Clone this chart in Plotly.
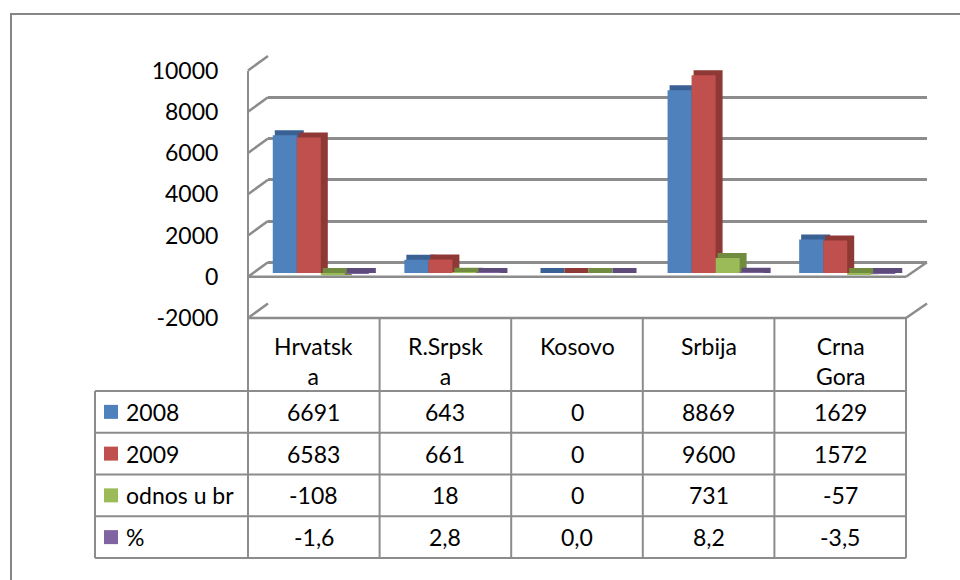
import plotly.graph_objects as go

# ---------------- data ----------------
categories = ["Hrvatska", "R.Srpska", "Kosovo", "Srbija", "Crna Gora"]
header_labels = ["Hrvatsk<br>a", "R.Srpsk<br>a", "Kosovo", "Srbija", "Crna<br>Gora"]
series_names = ["2008", "2009", "odnos u br", "%"]
values_2008 = [6691, 643, 0, 8869, 1629]
values_2009 = [6583, 661, 0, 9600, 1572]
values_diff = [-108, 18, 0, 731, -57]
values_pct = [-1.6, 2.8, 0.0, 8.2, -3.5]
y_ticks = [-2000, 0, 2000, 4000, 6000, 8000, 10000]

series_values = [values_2008, values_2009, values_diff, values_pct]
front_colors = ["#4F81BD", "#C0504D", "#9BBB59", "#8064A2"]
side_colors = ["#3A6194", "#8E3936", "#728C3F", "#5E4A7B"]

# ---------------- layout geometry (pixels) ----------------
W, H = 960, 580
FONT = "Lato"
FS = 23
GRID = "#8C8C8C"


def px(x):
    return x / W


def py(y):
    return 1 - y / H


FRONT_L, FRONT_R = 248, 906
BACK_L, BACK_R = 268, 927
FRONT_TOP, FRONT_BOT = 70.5, 318.0   # 10000 / -2000 on the front edge
BACK_TOP, BACK_BOT = 56.0, 303.5     # 10000 / -2000 on the back wall
BAR_L, BAR_R = 255, 913
BAR_TOP, BAR_BOT = 67.0, 314.2
SIDE_W = 5                           # stroke of the depth faces
DX, DY = 7 - SIDE_W / 2, 5 - SIDE_W / 2
YMIN, YMAX = y_ticks[0], y_ticks[-1]


def y_front(v):
    return FRONT_BOT - (v - YMIN) / (YMAX - YMIN) * (FRONT_BOT - FRONT_TOP)


def y_back(v):
    return BACK_BOT - (v - YMIN) / (YMAX - YMIN) * (BACK_BOT - BACK_TOP)


fig = go.Figure()

# back-wall grid subplot (x, y)
fig.add_trace(go.Scatter(x=[0.5], y=[0], mode="markers", marker=dict(opacity=0),
                         xaxis="x", yaxis="y", showlegend=False, hoverinfo="skip"))
# label axis subplot (x, y4)
fig.add_trace(go.Scatter(x=[0.5], y=[0], mode="markers", marker=dict(opacity=0),
                         xaxis="x", yaxis="y4", showlegend=False, hoverinfo="skip"))

# depth faces (shifted copy, zero values kept visible as flat faces)
for name, vals, col in zip(series_names, series_values, side_colors):
    fig.add_trace(go.Bar(x=categories, y=[v if v != 0 else 1e-6 for v in vals], name=name,
                         marker=dict(color=col, line=dict(width=SIDE_W, color=col)),
                         xaxis="x2", yaxis="y2", showlegend=False, hoverinfo="skip"))
# front faces
for name, vals, col in zip(series_names, series_values, front_colors):
    fig.add_trace(go.Bar(x=categories, y=vals, name=name, marker=dict(color=col, line=dict(width=0)),
                         xaxis="x3", yaxis="y3", showlegend=False, hoverinfo="skip"))

hidden = dict(visible=False, showgrid=False, zeroline=False, fixedrange=True, automargin=False)

fig.update_layout(
    width=W, height=H,
    margin=dict(l=0, r=0, t=0, b=0, pad=0, autoexpand=False),
    paper_bgcolor="white", plot_bgcolor="rgba(0,0,0,0)",
    barmode="group", bargap=0.27, bargroupgap=0,
    showlegend=False, hovermode=False,
    font=dict(family=FONT, size=FS, color="black"),
    xaxis=dict(domain=[px(BACK_L), px(BACK_R)], range=[0, 1], **hidden),
    yaxis=dict(domain=[py(BACK_BOT), py(BACK_TOP)], range=[YMIN, YMAX], tickvals=y_ticks,
               showgrid=True, gridcolor=GRID, gridwidth=2.5, zeroline=False, automargin=False,
               showticklabels=False, showline=False, ticks="", fixedrange=True),
    xaxis2=dict(domain=[px(BAR_L + DX), px(BAR_R + DX)], anchor="y2", **hidden),
    yaxis2=dict(domain=[py(BAR_BOT - DY), py(BAR_TOP - DY)], range=[YMIN, YMAX], anchor="x2", **hidden),
    xaxis3=dict(domain=[px(BAR_L), px(BAR_R)], anchor="y3", **hidden),
    yaxis3=dict(domain=[py(BAR_BOT), py(BAR_TOP)], range=[YMIN, YMAX], anchor="x3", **hidden),
    yaxis4=dict(domain=[py(FRONT_BOT), py(FRONT_TOP)], range=[YMIN, YMAX], anchor="free",
                position=px(FRONT_L), tickvals=y_ticks, ticktext=[str(t) for t in y_ticks],
                showgrid=False, zeroline=False, showline=True, linecolor=GRID, linewidth=2,
                ticks="", ticklabelstandoff=24, automargin=False,
                tickfont=dict(family=FONT, size=FS, color="black"), fixedrange=True),
)

shapes = []
line = dict(color=GRID, width=2.5)
# outer frame
shapes.append(dict(type="rect", xref="paper", yref="paper", x0=px(11), x1=px(990), y0=py(14), y1=py(600),
                   line=dict(color="#868686", width=2), fillcolor="rgba(0,0,0,0)", layer="below"))
# side wall slants
for v in y_ticks:
    shapes.append(dict(type="line", xref="paper", yref="paper", x0=px(FRONT_L), y0=py(y_front(v)),
                       x1=px(BACK_L), y1=py(y_back(v)), line=line))
# floor (0) and bottom (-2000) front edges + right slants
for v in (0, YMIN):
    shapes.append(dict(type="line", xref="paper", yref="paper", x0=px(FRONT_L), y0=py(y_front(v)),
                       x1=px(FRONT_R), y1=py(y_front(v)), line=line))
    shapes.append(dict(type="line", xref="paper", yref="paper", x0=px(FRONT_R), y0=py(y_front(v)),
                       x1=px(BACK_R), y1=py(y_back(v)), line=line))

# ---------------- data table ----------------
TBL_L, TBL_R = 95, FRONT_R
HEAD_TOP, HEAD_BOT = FRONT_BOT, 391
TBL_BOT = 558
ROW_H = (TBL_BOT - HEAD_BOT) / len(series_names)
col_w = (TBL_R - FRONT_L) / len(categories)
tline = dict(color=GRID, width=2)

# horizontal lines
for r in range(len(series_names) + 1):
    yy = HEAD_BOT + r * ROW_H
    shapes.append(dict(type="line", xref="paper", yref="paper", x0=px(TBL_L), x1=px(TBL_R),
                       y0=py(yy), y1=py(yy), line=tline))
# vertical lines
shapes.append(dict(type="line", xref="paper", yref="paper", x0=px(TBL_L), x1=px(TBL_L),
                   y0=py(HEAD_BOT), y1=py(TBL_BOT), line=tline))
for c in range(len(categories) + 1):
    xx = FRONT_L + c * col_w
    shapes.append(dict(type="line", xref="paper", yref="paper", x0=px(xx), x1=px(xx),
                       y0=py(HEAD_TOP), y1=py(TBL_BOT), line=tline))

annotations = []
for c, lab in enumerate(header_labels):
    annotations.append(dict(xref="paper", yref="paper", x=px(FRONT_L + (c + 0.5) * col_w), y=py(330),
                            text=lab, showarrow=False, xanchor="center", yanchor="top",
                            font=dict(family=FONT, size=FS, color="black")))


def fmt(v):
    if isinstance(v, float):
        return f"{v:.1f}".replace(".", ",")
    return str(v)


for r, (name, vals, col) in enumerate(zip(series_names, series_values, front_colors)):
    yc = HEAD_BOT + (r + 0.5) * ROW_H
    shapes.append(dict(type="rect", xref="paper", yref="paper", x0=px(104), x1=px(118),
                       y0=py(yc - 7), y1=py(yc + 7), line=dict(width=0), fillcolor=col))
    annotations.append(dict(xref="paper", yref="paper", x=px(124), y=py(yc), text=name, showarrow=False,
                            xanchor="left", yanchor="middle", font=dict(family=FONT, size=FS, color="black")))
    for c, v in enumerate(vals):
        annotations.append(dict(xref="paper", yref="paper", x=px(FRONT_L + (c + 0.5) * col_w), y=py(yc),
                                text=fmt(v), showarrow=False, xanchor="center", yanchor="middle",
                                font=dict(family=FONT, size=FS, color="black")))

fig.update_layout(shapes=shapes, annotations=annotations)
fig.write_html("out.html", config={"displayModeBar": False},
               post_script="document.body.style.margin='0px';")
